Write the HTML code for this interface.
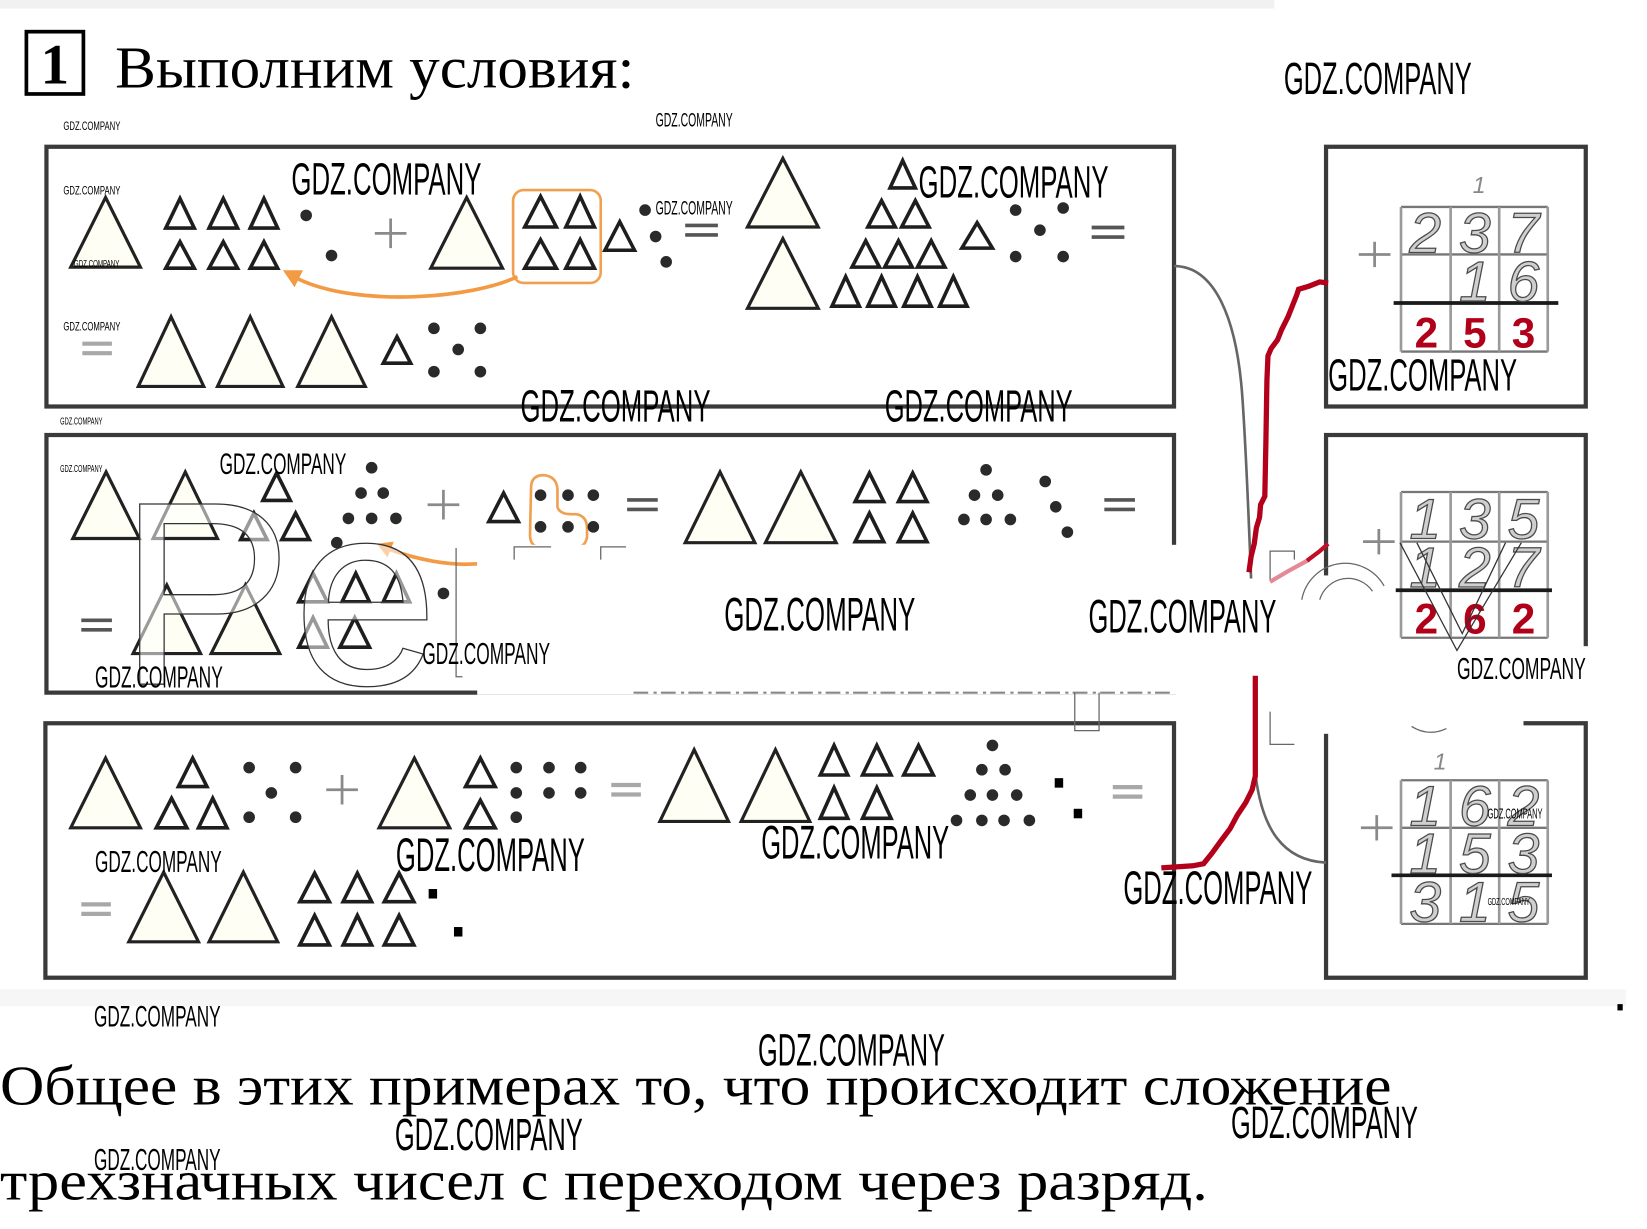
<!DOCTYPE html>
<html>
<head>
<meta charset="utf-8">
<style>
html,body{margin:0;padding:0;background:#fff;}
svg{display:block;}
</style>
</head>
<body>
<svg xmlns="http://www.w3.org/2000/svg" width="1647" height="1229" viewBox="0 0 1560 1164" preserveAspectRatio="none">
<defs>
<style>
.t{fill:#fffef4;stroke:#222;stroke-width:3;stroke-linejoin:miter}
.s{fill:#fff;stroke:#1e1e1e;stroke-width:3.4;stroke-linejoin:miter}
.d{fill:#2a2a2a}
.sq{fill:#000}
.wm{font-family:"Liberation Sans",sans-serif;fill:#000}
.hw{font-family:"Liberation Sans",sans-serif;font-style:italic;font-size:54px;fill:#cfcfcf;stroke:#4a4a4a;stroke-width:1.2;text-anchor:middle}
.rd{font-family:"Liberation Sans",sans-serif;font-weight:bold;font-size:40px;fill:#b0001a;text-anchor:middle}
.box{fill:none;stroke:#3a3a3a;stroke-width:4}
.pl{stroke:#8a8a8a;stroke-width:2.6;fill:none}
.eq{stroke:#555;stroke-width:3.5;fill:none}
.eql{stroke:#a8a8a8;stroke-width:4;fill:none}
.gv{stroke:#9a9a9a;stroke-width:2.5;fill:none}
.gh{stroke:#777;stroke-width:2.2;fill:none}
.sum{stroke:#1a1a1a;stroke-width:3.5;fill:none}
.fr{stroke:#666;stroke-width:1.2;fill:none}
</style>
</defs>

<rect x="0" y="0" width="1560" height="1164" fill="#fff"/>
<rect x="0" y="0" width="1207" height="8" fill="#f1f1f1"/>
<rect x="0" y="937" width="1540" height="16" fill="#f6f6f6"/>

<!-- Title -->
<rect x="25" y="30" width="54" height="59" fill="none" stroke="#000" stroke-width="3.5"/>
<text x="52" y="79" font-family="'Liberation Serif',serif" font-weight="bold" font-size="54" text-anchor="middle">1</text>
<text x="109" y="83" font-family="'Liberation Serif','Noto Serif CJK SC',serif" font-size="56" textLength="492" lengthAdjust="spacingAndGlyphs">Выполним условия:</text>

<!-- Left boxes -->
<rect class="box" x="44" y="139" width="1068" height="246"/>
<rect class="box" x="44" y="412" width="1068" height="244"/>
<rect class="box" x="43" y="685" width="1069" height="241"/>

<!-- Right boxes -->
<rect class="box" x="1256" y="139" width="246" height="246"/>
<rect class="box" x="1256" y="412" width="246" height="244"/>
<path class="box" d="M1256 693 L1256 926 L1502 926 L1502 685 L1443 685"/>

<!-- ===== Box A ===== -->
<polygon class="t" points="67,253 100,187 133,253"/>
<polygon class="s" points="157,216 170.5,188 184,216"/>
<polygon class="s" points="198,216 211.5,188 225,216"/>
<polygon class="s" points="237,216 250,188 263,216"/>
<polygon class="s" points="157,254 170.5,229 184,254"/>
<polygon class="s" points="198,254 211.5,229 225,254"/>
<polygon class="s" points="237,254 250,229 263,254"/>
<circle class="d" cx="290" cy="204" r="5.5"/>
<circle class="d" cx="314" cy="242" r="5.5"/>
<path class="pl" d="M355 221 H385 M370 207 V235"/>
<polygon class="t" points="408,254 442,187 476,254"/>
<rect x="486" y="180" width="83" height="88" rx="10" fill="none" stroke="#f0a050" stroke-width="2.5"/>
<polygon class="s" points="497,215 512,186 527,215"/>
<polygon class="s" points="536,215 549.5,186 563,215"/>
<polygon class="s" points="497,254 512,227 527,254"/>
<polygon class="s" points="536,254 549.5,227 563,254"/>
<polygon class="s" points="573,237 587,210 601,237"/>
<circle class="d" cx="611" cy="199" r="5.5"/>
<circle class="d" cx="621" cy="224" r="5.5"/>
<circle class="d" cx="631" cy="248" r="5.5"/>
<path class="eq" d="M649 213.5 H680 M649 222.5 H680"/>
<path d="M490 262 C450 282 340 292 282 264" fill="none" stroke="#f39a45" stroke-width="3.5"/>
<polygon points="268,256 287,256 279,272" fill="#f39a45"/>
<polygon class="t" points="708,215 741.5,150 775,215"/>
<polygon class="t" points="708,292 741.5,226 775,292"/>
<polygon class="s" points="843,178 855,152 867,178"/>
<polygon class="s" points="822,215 835,190 848,215"/>
<polygon class="s" points="854,215 867,190 880,215"/>
<polygon class="s" points="807,253 820,228 833,253"/>
<polygon class="s" points="838,253 851,228 864,253"/>
<polygon class="s" points="869,253 882,228 895,253"/>
<polygon class="s" points="788,290 801,262 814,290"/>
<polygon class="s" points="822,290 835,262 848,290"/>
<polygon class="s" points="856,290 869,262 882,290"/>
<polygon class="s" points="890,290 903,262 916,290"/>
<polygon class="s" points="911,235 925.5,211 940,235"/>
<circle class="d" cx="962" cy="199" r="5.5"/>
<circle class="d" cx="1007" cy="197" r="5.5"/>
<circle class="d" cx="985" cy="218" r="5.5"/>
<circle class="d" cx="962" cy="243" r="5.5"/>
<circle class="d" cx="1007" cy="243" r="5.5"/>
<path class="eq" d="M1034 215.5 H1065 M1034 224.5 H1065"/>
<path class="eql" d="M78 325.5 H106 M78 334.5 H106"/>
<polygon class="t" points="131,366 162,300 193,366"/>
<polygon class="t" points="206,366 237,300 268,366"/>
<polygon class="t" points="282,366 314,300 346,366"/>
<polygon class="s" points="363,344 376,319 389,344"/>
<circle class="d" cx="411" cy="311" r="5.5"/>
<circle class="d" cx="455" cy="311" r="5.5"/>
<circle class="d" cx="434" cy="331" r="5.5"/>
<circle class="d" cx="411" cy="352" r="5.5"/>
<circle class="d" cx="455" cy="352" r="5.5"/>

<!-- ===== Box B ===== -->
<polygon class="t" points="69,510 100.5,447 132,510"/>
<polygon class="t" points="145,510 175.5,447 206,510"/>
<polygon class="s" points="249,474 262,448 275,474"/>
<polygon class="s" points="228,511 240.5,486 253,511"/>
<polygon class="s" points="267,511 280,486 293,511"/>
<circle class="d" cx="352" cy="443" r="5.5"/>
<circle class="d" cx="342" cy="467" r="5.5"/>
<circle class="d" cx="363" cy="467" r="5.5"/>
<circle class="d" cx="330" cy="491" r="5.5"/>
<circle class="d" cx="352" cy="491" r="5.5"/>
<circle class="d" cx="375" cy="491" r="5.5"/>
<circle class="d" cx="319" cy="514" r="5.5"/>
<path class="pl" d="M405 478 H435 M420 464 V492"/>
<polygon class="s" points="463,494 477,467 491,494"/>
<path d="M503 462 Q503 450 515 450 Q527 451 528 463 L528 480 Q530 487 541 487 L546 487 Q556 489 556 500 L556 509 Q554 519 544 519 L513 519 Q502 518 502 507 Z" fill="none" stroke="#f0a050" stroke-width="2.5"/>
<circle class="d" cx="512" cy="469" r="5.5"/>
<circle class="d" cx="538" cy="469" r="5.5"/>
<circle class="d" cx="562" cy="469" r="5.5"/>
<circle class="d" cx="512" cy="499" r="5.5"/>
<circle class="d" cx="538" cy="499" r="5.5"/>
<circle class="d" cx="562" cy="499" r="5.5"/>
<path class="eq" d="M594 473.5 H623 M594 482.5 H623" stroke="#666"/>
<path d="M452 534 C425 536 395 530 368 520" fill="none" stroke="#f39a45" stroke-width="3.5"/>
<polygon points="357,515 373,513 367,528" fill="#f39a45"/>
<polygon class="t" points="649,514 682,447 715,514"/>
<polygon class="t" points="725,514 758.5,447 792,514"/>
<polygon class="s" points="810,475 823.5,448 837,475"/>
<polygon class="s" points="851,475 864.5,448 878,475"/>
<polygon class="s" points="810,513 823.5,486 837,513"/>
<polygon class="s" points="851,513 864.5,486 878,513"/>
<circle class="d" cx="934" cy="445" r="5.5"/>
<circle class="d" cx="923" cy="469" r="5.5"/>
<circle class="d" cx="945" cy="469" r="5.5"/>
<circle class="d" cx="913" cy="492" r="5.5"/>
<circle class="d" cx="934" cy="492" r="5.5"/>
<circle class="d" cx="957" cy="492" r="5.5"/>
<circle class="d" cx="990" cy="456" r="5.5"/>
<circle class="d" cx="1000" cy="480" r="5.5"/>
<circle class="d" cx="1011" cy="504" r="5.5"/>
<path class="eq" d="M1046 473.5 H1075 M1046 482.5 H1075" stroke="#888"/>
<path class="eq" d="M77 587.5 H106 M77 596.5 H106" stroke="#666"/>
<polygon class="t" points="126,619 158,554 190,619"/>
<polygon class="t" points="200,619 232.5,554 265,619"/>
<polygon class="s" points="283,570 296.5,543 310,570"/>
<polygon class="s" points="324,570 337,543 350,570"/>
<polygon class="s" points="363,570 375.5,543 388,570"/>
<polygon class="s" points="283,613 296.5,585 310,613"/>
<polygon class="s" points="322,613 336,585 350,613"/>
<circle class="d" cx="420" cy="562" r="5.5"/>

<!-- ===== Box C ===== -->
<polygon class="t" points="67,784 100,718 133,784"/>
<polygon class="s" points="169,745 182.5,718 196,745"/>
<polygon class="s" points="148,784 162.5,756 177,784"/>
<polygon class="s" points="188,784 201.5,756 215,784"/>
<circle class="d" cx="236" cy="727" r="5.5"/>
<circle class="d" cx="280" cy="727" r="5.5"/>
<circle class="d" cx="257" cy="751" r="5.5"/>
<circle class="d" cx="236" cy="774" r="5.5"/>
<circle class="d" cx="280" cy="774" r="5.5"/>
<path class="pl" d="M309 748 H339 M324 734 V762" stroke="#aaa"/>
<polygon class="t" points="359,784 392.5,718 426,784"/>
<polygon class="s" points="441,745 455,718 469,745"/>
<polygon class="s" points="441,784 455,758 469,784"/>
<circle class="d" cx="489" cy="727" r="5.5"/>
<circle class="d" cx="520" cy="727" r="5.5"/>
<circle class="d" cx="550" cy="727" r="5.5"/>
<circle class="d" cx="489" cy="751" r="5.5"/>
<circle class="d" cx="520" cy="751" r="5.5"/>
<circle class="d" cx="550" cy="751" r="5.5"/>
<circle class="d" cx="489" cy="774" r="5.5"/>
<path class="eql" d="M579 743.5 H607 M579 752.5 H607"/>
<polygon class="t" points="625,778 657.5,710 690,778"/>
<polygon class="t" points="702,778 734.5,710 767,778"/>
<polygon class="s" points="777,734 790,706 803,734"/>
<polygon class="s" points="817,734 830.5,706 844,734"/>
<polygon class="s" points="856,734 870,706 884,734"/>
<polygon class="s" points="777,775 790,746 803,775"/>
<polygon class="s" points="817,775 830.5,746 844,775"/>
<circle class="d" cx="940" cy="706" r="5.5"/>
<circle class="d" cx="930" cy="729" r="5.5"/>
<circle class="d" cx="952" cy="729" r="5.5"/>
<circle class="d" cx="919" cy="753" r="5.5"/>
<circle class="d" cx="940" cy="753" r="5.5"/>
<circle class="d" cx="963" cy="753" r="5.5"/>
<circle class="d" cx="906" cy="777" r="5.5"/>
<circle class="d" cx="930" cy="777" r="5.5"/>
<circle class="d" cx="951" cy="777" r="5.5"/>
<circle class="d" cx="975" cy="777" r="5.5"/>
<rect class="sq" x="999" y="737" width="8" height="9"/>
<rect class="sq" x="1017" y="766" width="8" height="9"/>
<path class="eql" d="M1054 745.5 H1082 M1054 754.5 H1082"/>
<path class="eql" d="M77 856.5 H105 M77 865.5 H105"/>
<polygon class="t" points="122,892 155,826 188,892"/>
<polygon class="t" points="198,892 230.5,826 263,892"/>
<polygon class="s" points="284,854 298,827 312,854"/>
<polygon class="s" points="325,854 338.5,827 352,854"/>
<polygon class="s" points="364,854 378,827 392,854"/>
<polygon class="s" points="284,895 298,867 312,895"/>
<polygon class="s" points="325,895 338.5,867 352,895"/>
<polygon class="s" points="364,895 378,867 392,895"/>
<rect class="sq" x="406" y="842" width="8" height="9"/>
<rect class="sq" x="430" y="878" width="8" height="9"/>

<!-- ===== Right grids ===== -->
<!-- RA -->
<path class="gh" d="M1327 196 H1466 M1327 241 H1466 M1327 333 H1466"/>
<path class="gv" d="M1327 196 V333 M1374 196 V333 M1420 196 V333 M1466 196 V333"/>
<path class="sum" d="M1320 287 H1476"/>
<path class="pl" d="M1287 241 H1317 M1302 229 V253"/>
<text x="1401" y="183" font-family="'Liberation Sans',sans-serif" font-style="italic" font-size="22" fill="#888" text-anchor="middle">1</text>
<text class="hw" x="1350" y="239">2</text>
<text class="hw" x="1397" y="239">3</text>
<text class="hw" x="1443" y="239">7</text>
<text class="hw" x="1397" y="285">1</text>
<text class="hw" x="1443" y="285">6</text>
<text class="rd" x="1351" y="329">2</text>
<text class="rd" x="1397" y="329">5</text>
<text class="rd" x="1443" y="329">3</text>
<!-- RB -->
<path class="gh" d="M1327 466 H1466 M1327 513 H1466 M1327 604 H1466"/>
<path class="gv" d="M1327 466 V604 M1374 466 V604 M1420 466 V604 M1466 466 V604"/>
<path class="sum" d="M1318 559 H1470"/>
<path class="pl" d="M1291 513 H1321 M1306 501 V525"/>
<text class="hw" x="1350" y="510">1</text>
<text class="hw" x="1397" y="510">3</text>
<text class="hw" x="1443" y="510">5</text>
<text class="hw" x="1350" y="556">1</text>
<text class="hw" x="1397" y="556">2</text>
<text class="hw" x="1443" y="556">7</text>
<text class="rd" x="1351" y="600">2</text>
<text class="rd" x="1397" y="600">6</text>
<text class="rd" x="1443" y="600">2</text>
<!-- RC -->
<path class="gh" d="M1327 739 H1466 M1327 784 H1466 M1327 875 H1466"/>
<path class="gv" d="M1327 739 V875 M1374 739 V875 M1420 739 V875 M1466 739 V875"/>
<path class="sum" d="M1318 829 H1470"/>
<path class="pl" d="M1289 784 H1319 M1304 772 V796"/>
<text x="1364" y="729" font-family="'Liberation Sans',sans-serif" font-style="italic" font-size="22" fill="#888" text-anchor="middle">1</text>
<text class="hw" x="1350" y="782">1</text>
<text class="hw" x="1397" y="782">6</text>
<text class="hw" x="1443" y="782">2</text>
<text class="hw" x="1350" y="827">1</text>
<text class="hw" x="1397" y="827">5</text>
<text class="hw" x="1443" y="827">3</text>
<text class="hw" x="1350" y="873">3</text>
<text class="hw" x="1397" y="873">1</text>
<text class="hw" x="1443" y="873">5</text>
<path class="fr" d="M1337 688 Q1353 698 1370 690"/>

<!-- Big outline watermark letters -->
<text x="112" y="648" font-family="'Liberation Sans',sans-serif" font-size="248" fill="#fff" fill-opacity="0.55" stroke="#333" stroke-width="1.2">Pe</text>

<!-- Connectors -->
<path d="M1112 252 C1150 252 1172 300 1177 380 C1181 440 1183 500 1185 548" fill="none" stroke="#666" stroke-width="2.5"/>
<polyline points="1258,268 1250,267 1240,271 1230,274 1228,280 1224,290 1220,300 1214,312 1210,322 1204,330 1201,337 1200,360 1199,420 1198,470 1194,478 1193,490 1190,500 1188,515 1185,527 1183,542" fill="none" stroke="#b3001b" stroke-width="5"/>
<path d="M1189 732 C1195 785 1215 815 1256 817" fill="none" stroke="#666" stroke-width="2.5"/>
<polyline points="1189,640 1189,735 1186,748 1180,760 1172,772 1165,785 1156,797 1148,808 1140,818 1130,820 1100,822" fill="none" stroke="#b3001b" stroke-width="5"/>

<!-- White patches -->
<rect x="452" y="516" width="726" height="142" fill="#fff"/>
<rect x="1112" y="548" width="100" height="90" fill="#fff"/>
<rect x="1205" y="545" width="117" height="150" fill="#fff"/>
<rect x="1195" y="612" width="350" height="70" fill="#fff"/>

<!-- Residual fragments -->
<path d="M600 656 L1112 656" stroke="#888" stroke-width="2" stroke-dasharray="14 5 3 4" fill="none"/>
<path class="fr" d="M1018 656 L1018 692 L1041 692 L1041 656"/>
<path class="fr" d="M1203 550 L1203 522 L1226 522 L1226 530"/>
<path class="fr" d="M1203 674 L1203 705 L1226 705"/>
<path class="fr" d="M432 519 L432 641 L438 641" stroke="#aaa"/>
<path class="fr" d="M487 530 L487 518 L522 518 M569 530 L569 518 L593 518" stroke="#aaa"/>
<path class="fr" d="M1233 568 A42 42 0 0 1 1311 555 M1250 568 A28 28 0 0 1 1300 560"/>
<path d="M1326 514 L1380 616 L1441 514 M1342 514 L1385 600 L1426 514" fill="none" stroke="#333" stroke-width="1.2"/>
<polyline points="1203,551 1220,541 1240,530" fill="none" stroke="#e48a96" stroke-width="4"/>
<polyline points="1238,531 1250,522 1258,515" fill="none" stroke="#c01028" stroke-width="4"/>
<rect x="1532" y="951" width="5" height="6" fill="#000"/>

<!-- GDZ watermarks -->
<g class="wm">
<text x="1216" y="89" font-size="43.3" textLength="178" lengthAdjust="spacingAndGlyphs">GDZ.COMPANY</text>
<text x="60" y="123" font-size="11.2" textLength="54" lengthAdjust="spacingAndGlyphs">GDZ.COMPANY</text>
<text x="621" y="120" font-size="18.2" textLength="73" lengthAdjust="spacingAndGlyphs">GDZ.COMPANY</text>
<text x="276" y="184" font-size="43.3" textLength="180" lengthAdjust="spacingAndGlyphs">GDZ.COMPANY</text>
<text x="870" y="187" font-size="43.3" textLength="180" lengthAdjust="spacingAndGlyphs">GDZ.COMPANY</text>
<text x="60" y="184" font-size="11.2" textLength="54" lengthAdjust="spacingAndGlyphs">GDZ.COMPANY</text>
<text x="621" y="203" font-size="18.2" textLength="73" lengthAdjust="spacingAndGlyphs">GDZ.COMPANY</text>
<text x="70" y="253" font-size="9.8" textLength="43" lengthAdjust="spacingAndGlyphs">GDZ.COMPANY</text>
<text x="60" y="313" font-size="11.2" textLength="54" lengthAdjust="spacingAndGlyphs">GDZ.COMPANY</text>
<text x="493" y="399" font-size="43.3" textLength="180" lengthAdjust="spacingAndGlyphs">GDZ.COMPANY</text>
<text x="838" y="399" font-size="43.3" textLength="178" lengthAdjust="spacingAndGlyphs">GDZ.COMPANY</text>
<text x="1258" y="370" font-size="43.3" textLength="179" lengthAdjust="spacingAndGlyphs">GDZ.COMPANY</text>
<text x="57" y="402" font-size="9.8" textLength="40" lengthAdjust="spacingAndGlyphs">GDZ.COMPANY</text>
<text x="57" y="447" font-size="9.8" textLength="40" lengthAdjust="spacingAndGlyphs">GDZ.COMPANY</text>
<text x="208" y="449" font-size="28" textLength="120" lengthAdjust="spacingAndGlyphs">GDZ.COMPANY</text>
<text x="686" y="597" font-size="44.7" textLength="181" lengthAdjust="spacingAndGlyphs">GDZ.COMPANY</text>
<text x="1031" y="599" font-size="44.7" textLength="178" lengthAdjust="spacingAndGlyphs">GDZ.COMPANY</text>
<text x="400" y="629" font-size="29.3" textLength="121" lengthAdjust="spacingAndGlyphs">GDZ.COMPANY</text>
<text x="90" y="651" font-size="29.3" textLength="121" lengthAdjust="spacingAndGlyphs">GDZ.COMPANY</text>
<text x="1380" y="643" font-size="29.3" textLength="122" lengthAdjust="spacingAndGlyphs">GDZ.COMPANY</text>
<text x="90" y="826" font-size="29.3" textLength="120" lengthAdjust="spacingAndGlyphs">GDZ.COMPANY</text>
<text x="375" y="825" font-size="44.7" textLength="179" lengthAdjust="spacingAndGlyphs">GDZ.COMPANY</text>
<text x="721" y="813" font-size="44.7" textLength="178" lengthAdjust="spacingAndGlyphs">GDZ.COMPANY</text>
<text x="1064" y="856" font-size="44.7" textLength="179" lengthAdjust="spacingAndGlyphs">GDZ.COMPANY</text>
<text x="1409" y="775" font-size="14" textLength="52" lengthAdjust="spacingAndGlyphs">GDZ.COMPANY</text>
<text x="1409" y="857" font-size="9.8" textLength="40" lengthAdjust="spacingAndGlyphs">GDZ.COMPANY</text>
<text x="89" y="972" font-size="28" textLength="120" lengthAdjust="spacingAndGlyphs">GDZ.COMPANY</text>
<text x="718" y="1009" font-size="43.3" textLength="177" lengthAdjust="spacingAndGlyphs">GDZ.COMPANY</text>
<text x="1166" y="1078" font-size="43.3" textLength="177" lengthAdjust="spacingAndGlyphs">GDZ.COMPANY</text>
<text x="374" y="1089" font-size="43.3" textLength="178" lengthAdjust="spacingAndGlyphs">GDZ.COMPANY</text>
<text x="89" y="1108" font-size="29.3" textLength="120" lengthAdjust="spacingAndGlyphs">GDZ.COMPANY</text>
</g>

<!-- Bottom text -->
<text x="0" y="1046" font-family="'Liberation Serif','Noto Serif CJK SC',serif" font-size="53" textLength="1318" lengthAdjust="spacingAndGlyphs">Общее в этих примерах то, что происходит сложение</text>
<text x="0" y="1136" font-family="'Liberation Serif','Noto Serif CJK SC',serif" font-size="53" textLength="1144" lengthAdjust="spacingAndGlyphs">трехзначных чисел с переходом через разряд.</text>
</svg>
</body>
</html>
